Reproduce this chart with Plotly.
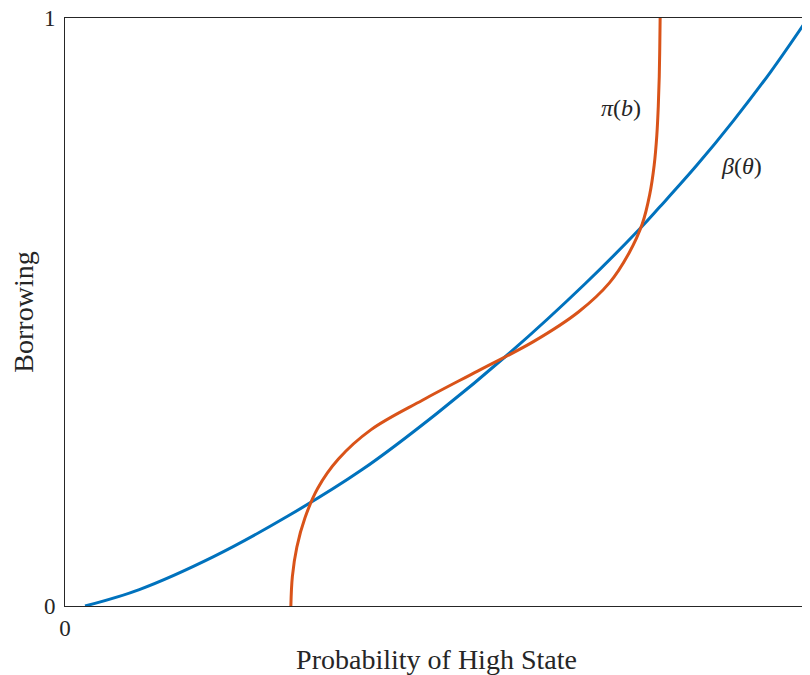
import plotly.graph_objects as go

# Blue curve beta(theta): probability of high state -> borrowing
beta_x = [0.027, 0.10, 0.20, 0.30, 0.40, 0.50, 0.60, 0.70, 0.774, 0.80, 0.85, 0.90, 0.95, 1.00]
beta_y = [0.000, 0.028, 0.084, 0.153, 0.232, 0.327, 0.432, 0.548, 0.642, 0.678, 0.749, 0.826, 0.909, 1.000]

# Orange curve pi(b): borrowing -> probability of high state
pi_y = [0.00, 0.05, 0.10, 0.15, 0.20, 0.25, 0.30, 0.35, 0.40, 0.45, 0.50,
        0.55, 0.60, 0.65, 0.70, 0.75, 0.80, 0.85, 0.90, 0.95, 1.00]
pi_x = [0.304, 0.306, 0.312, 0.323, 0.340, 0.368, 0.412, 0.481, 0.556, 0.631, 0.691,
        0.733, 0.759, 0.777, 0.787, 0.793, 0.7965, 0.7985, 0.7998, 0.8005, 0.801]

tick_vals = [0, 1]
tick_text = ["0", "1"]

labels = [("<i>π</i>(<i>b</i>)", 0.748, 0.847), ("<i>β</i>(<i>θ</i>)", 0.911, 0.748)]

BLUE = "#0072BD"
ORANGE = "#D95319"
INK = "#262626"
FONT = "Liberation Serif"

fig = go.Figure()
fig.add_trace(go.Scatter(x=beta_x, y=beta_y, mode="lines",
                         line=dict(color=BLUE, width=3, shape="spline", smoothing=1.0),
                         showlegend=False))
fig.add_trace(go.Scatter(x=pi_x, y=pi_y, mode="lines",
                         line=dict(color=ORANGE, width=3, shape="spline", smoothing=1.0),
                         showlegend=False))

for txt, x, y in labels:
    fig.add_annotation(x=x, y=y, text=txt, showarrow=False,
                       font=dict(family=FONT, size=24, color=INK))

axis_common = dict(range=[0, 1], tickvals=tick_vals, ticktext=tick_text,
                   showgrid=False, zeroline=False, showline=True, mirror=True,
                   linecolor=INK, linewidth=1, ticks="outside",
                   tickcolor="rgba(0,0,0,0)", automargin=False,
                   ticklabeloverflow="allow",
                   tickfont=dict(family=FONT, size=23, color=INK))

fig.update_xaxes(**axis_common, ticklen=1,
                 title=dict(text="Probability of High State", standoff=18,
                            font=dict(family=FONT, size=28, color=INK)))
fig.update_yaxes(**axis_common, ticklen=4,
                 title=dict(text="Borrowing", standoff=16,
                            font=dict(family=FONT, size=28, color=INK)))

# page body has an 8px default margin, so the figure is sized to the remaining window
fig.update_layout(width=802, height=667, plot_bgcolor="white", paper_bgcolor="white",
                  margin=dict(l=57, r=2, t=10, b=69, pad=0))

fig.write_html("out.html")
